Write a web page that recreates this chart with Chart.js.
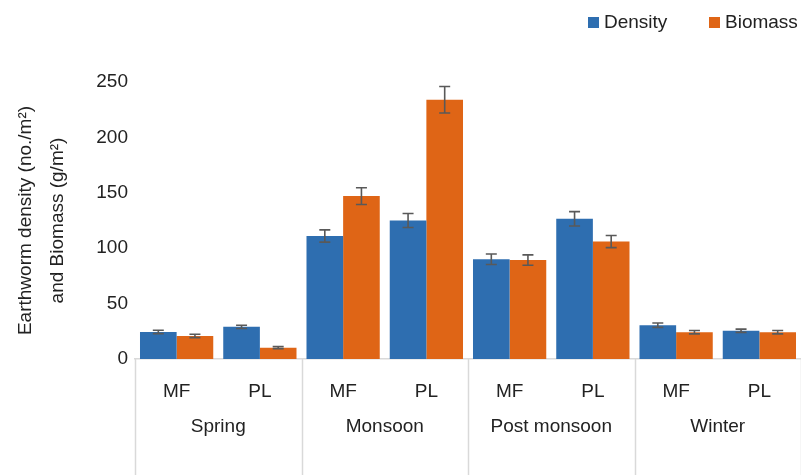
<!DOCTYPE html>
<html>
<head>
<meta charset="utf-8">
<script src="https://cdn.jsdelivr.net/npm/chart.js@4.4.1/dist/chart.umd.min.js"></script>
<style>
  html, body { margin: 0; padding: 0; background: #fff; }
  #wrap { width: 801px; height: 475px; }
</style>
</head>
<body>
<div id="wrap"><canvas id="chart"></canvas></div>
<script>
// sites under each season, seasons, and values
const sites = ['MF', 'PL', 'MF', 'PL', 'MF', 'PL', 'MF', 'PL'];
const seasons = ['Spring', 'Monsoon', 'Post monsoon', 'Winter'];
const density = [24.4, 29, 111, 125, 90, 126.5, 30.5, 25.5];
const densityErr = [1.5, 1.5, 5.5, 6.3, 4.7, 6.5, 2, 1.5];
const biomass = [20.8, 10.2, 147, 234, 89.3, 106, 24.2, 24.2];
const biomassErr = [1.5, 1, 7.5, 12, 4.7, 5.5, 1.5, 1.5];
const yTicks = [0, 50, 100, 150, 200, 250];

const FONT = "'Liberation Sans', Arial, sans-serif";
const SIZE = 19;
const TEXT = '#222222';
const LINE = '#d9d9d9';

// error bars drawn on top of each bar
const errorBars = {
    id: 'errorBars',
    afterDatasetsDraw(chart) {
        const ctx = chart.ctx;
        const y = chart.scales.y;
        ctx.save();
        ctx.strokeStyle = '#595959';
        ctx.lineWidth = 1.6;
        chart.data.datasets.forEach(function(ds, i) {
            const meta = chart.getDatasetMeta(i);
            meta.data.forEach(function(bar, j) {
                const v = ds.data[j], e = ds.errors[j];
                const yt = y.getPixelForValue(v + e);
                const yb = y.getPixelForValue(v - e);
                ctx.beginPath();
                ctx.moveTo(bar.x, yt); ctx.lineTo(bar.x, yb);
                ctx.moveTo(bar.x - 5.5, yt); ctx.lineTo(bar.x + 5.5, yt);
                ctx.moveTo(bar.x - 5.5, yb); ctx.lineTo(bar.x + 5.5, yb);
                ctx.stroke();
            });
        });
        ctx.restore();
    }
};

// season row + separator lines under the site labels
const seasonAxis = {
    id: 'seasonAxis',
    afterDraw(chart) {
        const ctx = chart.ctx;
        const x = chart.scales.x;
        const area = chart.chartArea;
        const step = (area.right - area.left) / sites.length;
        ctx.save();
        ctx.strokeStyle = LINE;
        ctx.lineWidth = 1.5;
        for (let k = 0; k <= seasons.length; k++) {
            const px = Math.round(area.left + k * 2 * step) + 0.5;
            ctx.beginPath();
            ctx.moveTo(px, area.bottom);
            ctx.lineTo(px, chart.height);
            ctx.stroke();
        }
        ctx.fillStyle = TEXT;
        ctx.font = SIZE + 'px ' + FONT;
        ctx.textAlign = 'center';
        ctx.textBaseline = 'middle';
        seasons.forEach(function(s, k) {
            const cx = (x.getPixelForValue(2 * k) + x.getPixelForValue(2 * k + 1)) / 2;
            ctx.fillText(s, cx, 427);
        });
        ctx.restore();
    }
};

// legend in the top right corner
const cornerLegend = {
    id: 'cornerLegend',
    afterDraw(chart) {
        const ctx = chart.ctx;
        const items = [
            { x: 588, ds: chart.data.datasets[0] },
            { x: 709, ds: chart.data.datasets[1] }
        ];
        ctx.save();
        ctx.font = SIZE + 'px ' + FONT;
        ctx.textBaseline = 'middle';
        ctx.textAlign = 'left';
        items.forEach(function(it) {
            ctx.fillStyle = it.ds.backgroundColor;
            ctx.fillRect(it.x, 17, 11, 11);
            ctx.fillStyle = TEXT;
            ctx.fillText(it.ds.label, it.x + 16, 23);
        });
        ctx.restore();
    }
};

new Chart(document.getElementById('chart'), {
    type: 'bar',
    data: {
        labels: sites,
        datasets: [
            {
                label: 'Density',
                data: density,
                errors: densityErr,
                backgroundColor: '#2E6EB0',
                categoryPercentage: 0.88,
                barPercentage: 1.0
            },
            {
                label: 'Biomass',
                data: biomass,
                errors: biomassErr,
                backgroundColor: '#DF6516',
                categoryPercentage: 0.88,
                barPercentage: 1.0
            }
        ]
    },
    options: {
        responsive: true,
        maintainAspectRatio: false,
        animation: false,
        layout: { padding: { top: 82, right: 0, bottom: 0, left: 0 } },
        plugins: {
            legend: { display: false },
            tooltip: { enabled: false }
        },
        scales: {
            x: {
                grid: { display: false, drawTicks: false },
                border: { display: true, color: LINE, width: 1.5 },
                ticks: {
                    color: TEXT,
                    font: { family: FONT, size: SIZE },
                    padding: 21,
                    maxRotation: 0
                },
                afterFit: function(scale) { scale.height = 116; }
            },
            y: {
                min: 0,
                max: 250,
                afterBuildTicks: function(scale) {
                    scale.ticks = yTicks.map(v => ({ value: v }));
                },
                grid: { display: false, drawTicks: false },
                border: { display: false },
                ticks: {
                    color: TEXT,
                    font: { family: FONT, size: SIZE },
                    padding: 7
                },
                title: {
                    display: true,
                    text: ['Earthworm density (no./m\u00b2)', 'and Biomass (g/m\u00b2)'],
                    color: TEXT,
                    font: { family: FONT, size: SIZE, lineHeight: 1.68 },
                    padding: { top: 10, bottom: 0 }
                },
                afterFit: function(scale) { scale.width = 135; }
            }
        }
    },
    plugins: [errorBars, seasonAxis, cornerLegend]
});
</script>
</body>
</html>
